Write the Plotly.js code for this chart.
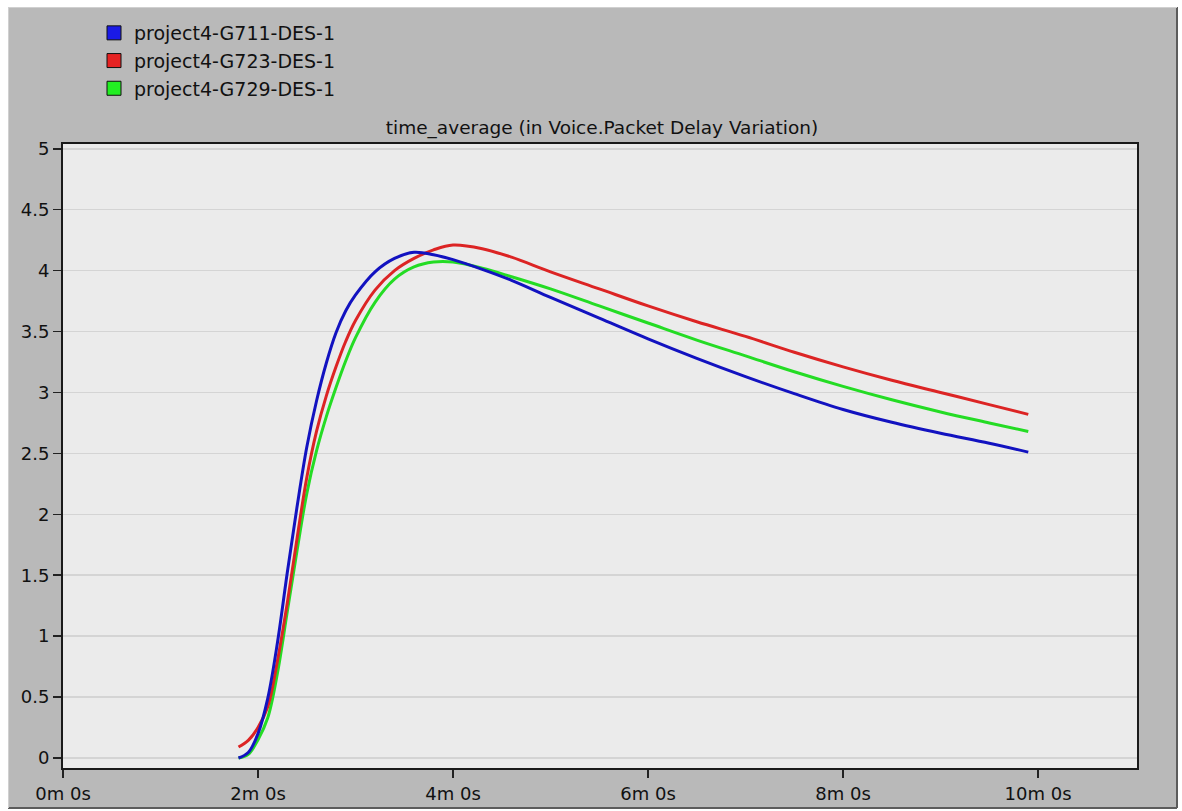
<!DOCTYPE html>
<html>
<head>
<meta charset="utf-8">
<script src="https://cdn.plot.ly/plotly-3.0.1.min.js"></script>
<style>
  html, body { margin: 0; padding: 0; background: #ffffff; }
  #chart { width: 1182px; height: 811px; }
</style>
</head>
<body>
<div id="chart"></div>
<script>
// ---- data (time in minutes) ----
const timeMin = [1.8, 1.9, 2.0, 2.1, 2.2, 2.3, 2.4, 2.5, 2.6, 2.7, 2.8, 2.9, 3.0, 3.2, 3.4, 3.6, 3.8, 4.0, 4.3, 4.6, 5.0, 5.5, 6.0, 6.5, 7.0, 7.5, 8.0, 8.5, 9.0, 9.5, 9.9];
const g711 = [0.00, 0.045, 0.20, 0.49, 0.95, 1.52, 2.06, 2.55, 2.93, 3.24, 3.49, 3.67, 3.80, 3.99, 4.10, 4.15, 4.13, 4.09, 4.01, 3.92, 3.78, 3.61, 3.44, 3.28, 3.13, 2.99, 2.86, 2.755, 2.665, 2.583, 2.51];
const g723 = [0.09, 0.145, 0.25, 0.42, 0.80, 1.27, 1.80, 2.30, 2.68, 2.97, 3.21, 3.42, 3.59, 3.84, 4.00, 4.10, 4.17, 4.21, 4.18, 4.11, 3.99, 3.85, 3.71, 3.58, 3.46, 3.33, 3.21, 3.10, 3.00, 2.90, 2.82];
const g729 = [0.00, 0.03, 0.15, 0.33, 0.70, 1.20, 1.70, 2.17, 2.52, 2.80, 3.04, 3.26, 3.45, 3.74, 3.93, 4.03, 4.07, 4.07, 4.02, 3.95, 3.85, 3.71, 3.57, 3.43, 3.30, 3.17, 3.05, 2.94, 2.84, 2.75, 2.68];

const seriesNames = ['project4-G711-DES-1', 'project4-G723-DES-1', 'project4-G729-DES-1'];
const seriesValues = [g711, g723, g729];
const lineColors = ['#1212c0', '#dc2424', '#24dc24'];
const legendColors = ['#1a1ae6', '#e62222', '#22ee22'];

const xTickVals = [0, 2, 4, 6, 8, 10];
const xTickText = ['0m 0s', '2m 0s', '4m 0s', '6m 0s', '8m 0s', '10m 0s'];
const yTickVals = [0, 0.5, 1, 1.5, 2, 2.5, 3, 3.5, 4, 4.5, 5];
const chartTitle = 'time_average (in Voice.Packet Delay Variation)';

// ---- layout geometry ----
const W = 1182, H = 811;
const M = { l: 63, r: 45, t: 144, b: 43 };
const PW = W - M.l - M.r, PH = H - M.t - M.b;
const px = x => (x - M.l) / PW;
const py = y => (H - M.b - y) / PH;
const FONT = 'DejaVu Sans, Verdana, sans-serif';

// draw order: green, red, blue (blue on top)
const drawOrder = [2, 1, 0];
const traces = [];
drawOrder.forEach(i => {
  traces.push({
    type: 'scatter', mode: 'lines',
    x: timeMin, y: seriesValues[i],
    line: { color: lineColors[i], width: 3, shape: 'spline', smoothing: 1 },
    showlegend: false, hoverinfo: 'x+y', name: seriesNames[i]
  });
});
// legend entries (square swatches)
seriesNames.forEach((n, i) => {
  traces.push({
    type: 'scatter', mode: 'markers', x: [null], y: [null],
    name: n, legendrank: i + 1, showlegend: true,
    marker: { symbol: 'square', size: 14, color: legendColors[i], line: { color: '#111', width: 1 } },
    hoverinfo: 'skip'
  });
});

const shapes = [
  // gray panel
  { type: 'rect', xref: 'paper', yref: 'paper', layer: 'below',
    x0: px(8), x1: px(1177), y0: py(808), y1: py(7),
    fillcolor: '#b9b9b9', line: { width: 0 } },
  // plot area background
  { type: 'rect', xref: 'paper', yref: 'paper', layer: 'below',
    x0: 0, x1: 1, y0: 0, y1: 1, fillcolor: '#ebebeb', line: { width: 0 } },
  // panel bevel (dark right / bottom edge)
  { type: 'line', xref: 'paper', yref: 'paper', x0: px(1177), x1: px(1177), y0: py(808), y1: py(7),
    line: { color: '#5c5c5c', width: 2 } },
  { type: 'line', xref: 'paper', yref: 'paper', x0: px(8), x1: px(1177), y0: py(808), y1: py(808),
    line: { color: '#5c5c5c', width: 2 } },
  // panel light top / left edge
  { type: 'line', xref: 'paper', yref: 'paper', x0: px(8), x1: px(1177), y0: py(7.5), y1: py(7.5),
    line: { color: '#d0d0d0', width: 1 } },
  { type: 'line', xref: 'paper', yref: 'paper', x0: px(8.5), x1: px(8.5), y0: py(808), y1: py(7),
    line: { color: '#d0d0d0', width: 1 } }
];

const axisCommon = {
  showline: true, linecolor: '#1a1a1a', linewidth: 2, mirror: true,
  ticks: 'outside', ticklen: 8, tickwidth: 1.5, tickcolor: '#222',
  tickfont: { family: FONT, size: 18, color: '#111' },
  zeroline: false, fixedrange: true
};

const layout = {
  width: W, height: H,
  margin: M,
  paper_bgcolor: '#ffffff',
  plot_bgcolor: '#ebebeb',
  font: { family: FONT, color: '#111' },
  title: {
    text: chartTitle,
    font: { family: FONT, size: 18.5, color: '#111' },
    x: px(602), xref: 'paper', xanchor: 'center',
    y: 1 - 128 / H, yref: 'container', yanchor: 'middle'
  },
  xaxis: Object.assign({}, axisCommon, {
    range: [0, 11.015], tickmode: 'array', tickvals: xTickVals, ticktext: xTickText,
    showgrid: false
  }),
  yaxis: Object.assign({}, axisCommon, {
    range: [-0.082, 5.039], tickmode: 'array', tickvals: yTickVals,
    showgrid: true, gridcolor: '#d4d4d4', gridwidth: 1.5
  }),
  showlegend: true,
  legend: {
    x: px(94), xanchor: 'left', y: py(14), yanchor: 'top',
    bgcolor: 'rgba(0,0,0,0)', borderwidth: 0,
    font: { family: FONT, size: 19, color: '#111' },
    tracegroupgap: 0, itemclick: false, itemdoubleclick: false
  },
  shapes: shapes
};

Plotly.newPlot('chart', traces, layout, { displayModeBar: false, staticPlot: true });
</script>
</body>
</html>
